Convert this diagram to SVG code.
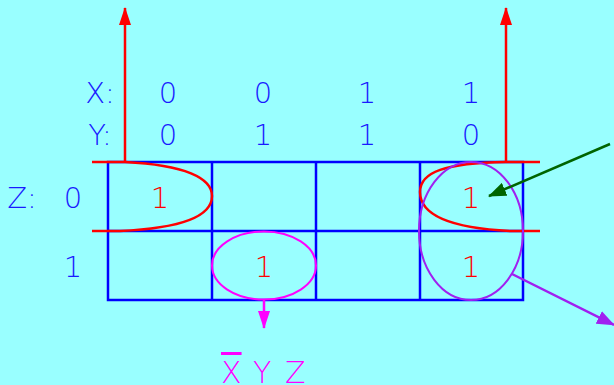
<svg xmlns="http://www.w3.org/2000/svg" width="614" height="385" viewBox="0 0 614 385">
<defs>
<style>
.t{font-family:"DejaVu Sans","Liberation Sans",sans-serif;font-weight:200;font-size:29px;fill:#1a1aff;text-anchor:middle}
.r{fill:#ff0000}
.g{fill:none;stroke:#0000ff;stroke-width:2.5}
</style>
<marker id="ar" markerWidth="18" markerHeight="12" refX="17" refY="6" orient="auto" markerUnits="userSpaceOnUse" viewBox="0 0 18 12"><path d="M0,0 L18,6 L0,12 Z" fill="#ff0000"/></marker>
<marker id="am" markerWidth="18" markerHeight="12" refX="17" refY="6" orient="auto" markerUnits="userSpaceOnUse" viewBox="0 0 18 12"><path d="M0,0 L18,6 L0,12 Z" fill="#ff00ff"/></marker>
<marker id="ap" markerWidth="18" markerHeight="14" refX="17" refY="7" orient="auto" markerUnits="userSpaceOnUse" viewBox="0 0 18 14"><path d="M0,0 L18,7 L0,14 Z" fill="#a020f0"/></marker>
<marker id="ag" markerWidth="18" markerHeight="14" refX="17" refY="7" orient="auto" markerUnits="userSpaceOnUse" viewBox="0 0 18 14"><path d="M0,0 L18,7 L0,14 Z" fill="#006400"/></marker>
</defs>
<rect width="614" height="385" fill="#99ffff"/>
<g id="labels">
<text class="t" x="100" y="103">X:</text>
<text class="t" x="100" y="145">Y:</text>
<text class="t" x="22" y="208">Z:</text>
<text class="t" x="168" y="103">0</text><text class="t" x="263" y="103">0</text><text class="t" x="367" y="103">1</text><text class="t" x="471" y="103">1</text>
<text class="t" x="168" y="145">0</text><text class="t" x="263" y="145">1</text><text class="t" x="367" y="145">1</text><text class="t" x="471" y="145">0</text>
<text class="t" x="73" y="208">0</text>
<text class="t" x="73" y="277">1</text>
</g>
<g id="grid">
<rect class="g" x="108" y="162" width="415" height="138"/>
<line class="g" x1="108" y1="231" x2="523" y2="231"/>
<line class="g" x1="212" y1="162" x2="212" y2="300"/>
<line class="g" x1="316" y1="162" x2="316" y2="300"/>
<line class="g" x1="420" y1="162" x2="420" y2="300"/>
</g>
<g id="cells">
<text class="t r" x="160" y="208">1</text>
<text class="t r" x="471" y="208">1</text>
<text class="t r" x="264" y="277">1</text>
<text class="t r" x="471" y="277">1</text>
</g>
<g id="groupings">
<path d="M92,162 H125 C185,165 212,178 212,196 C212,215 185,228 120,231 H92" fill="none" stroke="#ff0000" stroke-width="2.5"/>
<path d="M540,162 H506 C445,163 420,172 420,192 C420,215 450,228 510,231 H540" fill="none" stroke="#ff0000" stroke-width="2.5"/>
<ellipse cx="471" cy="231" rx="52" ry="69" fill="none" stroke="#a020f0" stroke-width="2"/>
<ellipse cx="264" cy="265.5" rx="52" ry="34" fill="none" stroke="#ff00ff" stroke-width="2"/>
</g>
<g id="connectors">
<line x1="125" y1="162" x2="125" y2="8" stroke="#ff0000" stroke-width="2.5" marker-end="url(#ar)"/>
<line x1="506" y1="162" x2="506" y2="8" stroke="#ff0000" stroke-width="2.5" marker-end="url(#ar)"/>
<line x1="264" y1="300" x2="264" y2="328" stroke="#ff00ff" stroke-width="2.5" marker-end="url(#am)"/>
<line x1="610" y1="144" x2="489" y2="196" stroke="#006400" stroke-width="2.5" marker-end="url(#ag)"/>
<line x1="512" y1="274" x2="614" y2="325" stroke="#a020f0" stroke-width="2.5" marker-end="url(#ap)"/>
</g>
<g id="term">
<text x="0" y="383" style="font-family:'DejaVu Sans','Liberation Sans',sans-serif;font-weight:200;font-size:30px;fill:#ff00ff"><tspan x="221" text-decoration="overline">X</tspan><tspan x="253">Y</tspan><tspan x="285">Z</tspan></text>
</g>
</svg>
